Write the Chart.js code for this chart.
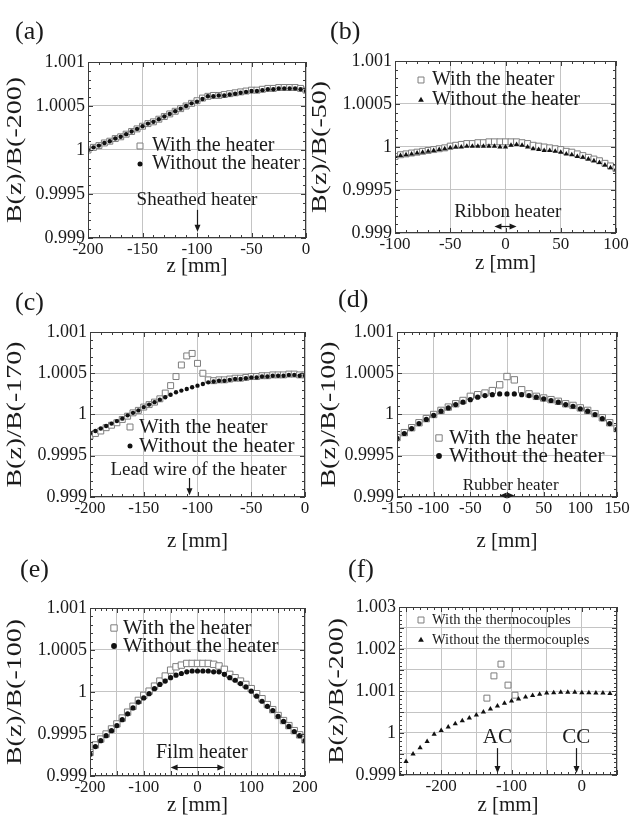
<!DOCTYPE html>
<html>
<head>
<meta charset="utf-8">
<script src="https://cdn.jsdelivr.net/npm/chart.js@4.4.1/dist/chart.umd.min.js"></script>
<style>
  html, body { margin: 0; padding: 0; background: #fff; overflow: hidden; }
  #page { position: relative; width: 630px; height: 816px; overflow: hidden; background: #fff; }
  #page canvas { position: absolute; }
</style>
</head>
<body>
<div id="page"></div>
<script>
// ---------------- DATA ----------------
// z positions [mm]
const zA = [-200,-195,-190,-185,-180,-175,-170,-165,-160,-155,-150,-145,-140,-135,-130,-125,-120,-115,-110,-105,-100,-95,-90,-85,-80,-75,-70,-65,-60,-55,-50,-45,-40,-35,-30,-25,-20,-15,-10,-5,0];
const zB = [-100,-95,-90,-85,-80,-75,-70,-65,-60,-55,-50,-45,-40,-35,-30,-25,-20,-15,-10,-5,0,5,10,15,20,25,30,35,40,45,50,55,60,65,70,75,80,85,90,95,100];
const zC = [-200,-195,-190,-185,-180,-175,-170,-165,-160,-155,-150,-145,-140,-135,-130,-125,-120,-115,-110,-105,-100,-95,-90,-85,-80,-75,-70,-65,-60,-55,-50,-45,-40,-35,-30,-25,-20,-15,-10,-5,0];
const zD = [-150,-140,-130,-120,-110,-100,-90,-80,-70,-60,-50,-40,-30,-20,-10,0,10,20,30,40,50,60,70,80,90,100,110,120,130,140,150];
const zE = [-200,-190,-180,-170,-160,-150,-140,-130,-120,-110,-100,-90,-80,-70,-60,-50,-40,-30,-20,-10,0,10,20,30,40,50,60,70,80,90,100,110,120,130,140,150,160,170,180,190,200];
const zF = [-260,-250,-240,-230,-220,-210,-200,-190,-180,-170,-160,-150,-140,-130,-120,-110,-100,-90,-80,-70,-60,-50,-40,-30,-20,-10,0,10,20,30,40,50];
const zFWith = [-135,-125,-115,-105,-95];

// B(z)/B(z0)
const withA    = [1.00000,1.00003,1.00005,1.00008,1.00010,1.00013,1.00015,1.00018,1.00021,1.00024,1.00027,1.00030,1.00032,1.00035,1.00038,1.00041,1.00044,1.00047,1.00050,1.00053,1.00056,1.00059,1.00061,1.00062,1.00062,1.00063,1.00064,1.00065,1.00066,1.00067,1.00068,1.00068,1.00069,1.00070,1.00070,1.00071,1.00071,1.00071,1.00071,1.00070,1.00068];
const withoutA = [1.00000,1.00003,1.00005,1.00008,1.00010,1.00013,1.00015,1.00018,1.00021,1.00024,1.00027,1.00030,1.00032,1.00035,1.00038,1.00041,1.00044,1.00047,1.00050,1.00053,1.00055,1.00058,1.00061,1.00061,1.00062,1.00062,1.00063,1.00064,1.00065,1.00066,1.00067,1.00067,1.00068,1.00069,1.00069,1.00070,1.00070,1.00070,1.00070,1.00069,1.00067];

const withB    = [0.99989,0.99991,0.99992,0.99993,0.99994,0.99995,0.99996,0.99997,0.99998,0.99999,1.00001,1.00002,1.00003,1.00004,1.00004,1.00005,1.00005,1.00006,1.00006,1.00006,1.00006,1.00006,1.00006,1.00005,1.00004,1.00002,1.00001,1.00000,0.99999,0.99998,0.99997,0.99995,0.99994,0.99992,0.99990,0.99988,0.99986,0.99984,0.99981,0.99978,0.99975];
const withoutB = [0.99989,0.99990,0.99991,0.99992,0.99993,0.99994,0.99995,0.99996,0.99997,0.99998,0.99999,1.00000,1.00000,1.00001,1.00001,1.00001,1.00001,1.00001,1.00001,1.00000,1.00000,1.00002,1.00003,1.00002,1.00000,0.99998,0.99997,0.99996,0.99996,0.99995,0.99994,0.99992,0.99991,0.99989,0.99988,0.99986,0.99984,0.99982,0.99979,0.99976,0.99974];

const withC    = [0.99974,0.99977,0.99980,0.99984,0.99987,0.99990,0.99994,0.99998,1.00002,1.00005,1.00009,1.00012,1.00015,1.00019,1.00026,1.00035,1.00046,1.00060,1.00071,1.00074,1.00062,1.00050,1.00042,1.00041,1.00042,1.00042,1.00043,1.00044,1.00044,1.00045,1.00046,1.00046,1.00047,1.00047,1.00048,1.00048,1.00048,1.00049,1.00049,1.00048,1.00048];
const withoutC = [0.99977,0.99980,0.99983,0.99986,0.99989,0.99992,0.99995,0.99999,1.00002,1.00005,1.00009,1.00012,1.00015,1.00018,1.00021,1.00024,1.00027,1.00029,1.00031,1.00033,1.00035,1.00037,1.00039,1.00040,1.00041,1.00041,1.00042,1.00043,1.00043,1.00044,1.00045,1.00045,1.00046,1.00046,1.00047,1.00047,1.00047,1.00048,1.00048,1.00047,1.00047];

const withD    = [0.99972,0.99978,0.99984,0.99990,0.99995,1.00000,1.00005,1.00009,1.00013,1.00017,1.00022,1.00024,1.00026,1.00029,1.00036,1.00046,1.00042,1.00030,1.00025,1.00022,1.00020,1.00018,1.00016,1.00013,1.00011,1.00008,1.00005,1.00001,0.99996,0.99990,0.99983];
const withoutD = [0.99971,0.99977,0.99983,0.99989,0.99994,0.99999,1.00004,1.00008,1.00012,1.00015,1.00018,1.00021,1.00023,1.00024,1.00025,1.00025,1.00025,1.00024,1.00023,1.00021,1.00019,1.00017,1.00015,1.00012,1.00010,1.00007,1.00004,1.00000,0.99995,0.99989,0.99982];

const withE    = [0.99928,0.99937,0.99944,0.99950,0.99956,0.99962,0.99969,0.99976,0.99983,0.99990,0.99996,1.00001,1.00007,1.00013,1.00019,1.00026,1.00030,1.00032,1.00034,1.00034,1.00034,1.00034,1.00034,1.00033,1.00031,1.00027,1.00021,1.00017,1.00013,1.00009,1.00004,0.99998,0.99992,0.99985,0.99979,0.99972,0.99966,0.99960,0.99954,0.99949,0.99943];
const withoutE = [0.99926,0.99935,0.99942,0.99948,0.99954,0.99960,0.99967,0.99974,0.99981,0.99988,0.99993,0.99998,1.00004,1.00009,1.00013,1.00017,1.00020,1.00022,1.00024,1.00025,1.00025,1.00025,1.00025,1.00024,1.00024,1.00021,1.00017,1.00014,1.00010,1.00006,1.00001,0.99995,0.99989,0.99983,0.99978,0.99971,0.99965,0.99959,0.99953,0.99948,0.99942];

const withF    = [1.00083,1.00136,1.00164,1.00114,1.00090];
const withoutF = [0.99905,0.99932,0.99950,0.99965,0.99980,0.99997,1.00006,1.00014,1.00022,1.00029,1.00036,1.00043,1.00050,1.00057,1.00064,1.00071,1.00076,1.00081,1.00086,1.00089,1.00092,1.00095,1.00096,1.00097,1.00097,1.00097,1.00096,1.00096,1.00095,1.00095,1.00094,1.00092];

// ticks
const yTicks   = [0.999, 0.9995, 1, 1.0005, 1.001];
const yTicksF  = [0.999, 0.9995, 1, 1.0005, 1.001, 1.0015, 1.002, 1.0025, 1.003];
const yLabelsF = [0.999, 1, 1.001, 1.002, 1.003];
const xTicksA  = [-200, -150, -100, -50, 0];
const xTicksB  = [-100, -50, 0, 50, 100];
const xTicksD  = [-150, -100, -50, 0, 50, 100, 150];
const xTicksE  = [-200, -150, -100, -50, 0, 50, 100, 150, 200];
const xLabelsE = [-200, -100, 0, 100, 200];
const xTicksF  = [-250, -200, -150, -100, -50, 0, 50];
const xLabelsF = [-200, -100, 0];

// ---------------- PANELS ----------------
const FONT = '"Liberation Serif", "DejaVu Serif", serif';
const INK = "#1a1a1a";
Chart.defaults.font.family = FONT;

const heater = ["With the heater", "Without the heater"];

const panels = [
  { id: "a", box: { x: 0, y: 0, w: 330, h: 282 }, area: { l: 88, r: 306, t: 62, b: 238 }, titleY: 266,
    xMin: -200, xMax: 0, xTicks: xTicksA, xLabels: xTicksA, yMin: 0.999, yMax: 1.001, yTicks: yTicks, yLabels: yTicks,
    yTitle: "B(z)/B(-200)", yTitleX: 16, tag: [15, 32, "(a)"],
    legend: { x: 140, tx: 152, y1: 146, y2: 164, size: 20, text: heater },
    z: zA, withZ: zA, withY: withA, withoutY: withoutA, mark: "circle", dot: 2.2, sq: 4.2,
    notes: [{ t: "text", x: -100, y: 0.99943, s: "Sheathed heater", size: 19 },
            { t: "arrow", x: -100, y1: 0.99932, y2: 0.99907 }] },
  { id: "b", box: { x: 300, y: 0, w: 330, h: 282 }, area: { l: 395, r: 616, t: 61, b: 233 }, titleY: 263,
    xMin: -100, xMax: 100, xTicks: xTicksB, xLabels: xTicksB, yMin: 0.999, yMax: 1.001, yTicks: yTicks, yLabels: yTicks,
    yTitle: "B(z)/B(-50)", yTitleX: 321, tag: [330, 32, "(b)"],
    legend: { x: 421, tx: 432, y1: 80, y2: 100, size: 20, text: heater },
    z: zB, withZ: zB, withY: withB, withoutY: withoutB, mark: "triangle", dot: 3.0, sq: 4.2,
    notes: [{ t: "text", x: 2, y: 0.99924, s: "Ribbon heater", size: 19 },
            { t: "darrow", x1: -10, x2: 10, y: 0.99908 }] },
  { id: "c", box: { x: 0, y: 272, w: 330, h: 290 }, area: { l: 90, r: 305, t: 332, b: 497 }, titleY: 541,
    xMin: -200, xMax: 0, xTicks: xTicksA, xLabels: xTicksA, yMin: 0.999, yMax: 1.001, yTicks: yTicks, yLabels: yTicks,
    yTitle: "B(z)/B(-170)", yTitleX: 16, tag: [15, 303, "(c)"],
    legend: { x: 130, tx: 139, y1: 427, y2: 446, size: 21, text: heater },
    z: zC, withZ: zC, withY: withC, withoutY: withoutC, mark: "circle", dot: 2.2, sq: 4.2,
    notes: [{ t: "text", x: -99, y: 0.99933, s: "Lead wire of the heater", size: 19 },
            { t: "arrow", x: -108, y1: 0.99923, y2: 0.99902 }] },
  { id: "d", box: { x: 300, y: 272, w: 330, h: 290 }, area: { l: 397, r: 617, t: 332, b: 497 }, titleY: 541,
    xMin: -150, xMax: 150, xTicks: xTicksD, xLabels: xTicksD, yMin: 0.999, yMax: 1.001, yTicks: yTicks, yLabels: yTicks,
    yTitle: "B(z)/B(-100)", yTitleX: 330, tag: [338, 300, "(d)"],
    legend: { x: 439, tx: 449, y1: 438, y2: 456, size: 21, text: heater },
    z: zD, withZ: zD, withY: withD, withoutY: withoutD, mark: "circle", dot: 2.6, sq: 4.5,
    notes: [{ t: "text", x: 5, y: 0.999145, s: "Rubber heater", size: 17 },
            { t: "darrow", x1: -10, x2: 10, y: 0.99903 }] },
  { id: "e", box: { x: 0, y: 545, w: 330, h: 280 }, area: { l: 90, r: 305, t: 608, b: 776 }, titleY: 805,
    xMin: -200, xMax: 200, xTicks: xTicksE, xLabels: xLabelsE, yMin: 0.999, yMax: 1.001, yTicks: yTicks, yLabels: yTicks,
    yTitle: "B(z)/B(-100)", yTitleX: 16, tag: [20, 570, "(e)"],
    legend: { x: 114, tx: 123, y1: 628, y2: 646, size: 21, text: heater },
    z: zE, withZ: zE, withY: withE, withoutY: withoutE, mark: "circle", dot: 2.6, sq: 4.5,
    notes: [{ t: "text", x: 8, y: 0.999274, s: "Film heater", size: 20 },
            { t: "darrow", x1: -50, x2: 50, y: 0.99911 }] },
  { id: "f", box: { x: 300, y: 545, w: 330, h: 280 }, area: { l: 399, r: 617, t: 607, b: 775 }, titleY: 805,
    xMin: -260, xMax: 50, xTicks: xTicksF, xLabels: xLabelsF, yMin: 0.999, yMax: 1.003, yTicks: yTicksF, yLabels: yLabelsF,
    yTitle: "B(z)/B(-200)", yTitleX: 338, tag: [348, 570, "(f)"],
    legend: { x: 421, tx: 432, y1: 620, y2: 640, size: 14.5, text: ["With the thermocouples", "Without the thermocouples"] },
    z: zF, withZ: zFWith, withY: withF, withoutY: withoutF, mark: "triangle", dot: 3.0, sq: 4.2,
    notes: [{ t: "text", x: -120, y: 0.999905, s: "AC", size: 21 },
            { t: "arrow", x: -120, y1: 0.99964, y2: 0.99905 },
            { t: "text", x: -8, y: 0.999905, s: "CC", size: 21 },
            { t: "arrow", x: -8, y1: 0.99964, y2: 0.99905 }] }
];

// ---------------- HELPERS ----------------
function toPoints(xs, ys) { return xs.map((x, i) => ({ x: x, y: ys[i] })); }
function has(list, v) { return list.some(t => Math.abs(t - v) < 1e-9); }
function fmtY(v) { return Math.abs(v - 1) < 1e-9 ? "1" : String(+v.toFixed(4)); }

function drawMark(ctx, style, x, y, r) {
  ctx.beginPath();
  if (style === "rect") {
    const s = r * Math.SQRT1_2;
    ctx.rect(x - s, y - s, 2 * s, 2 * s);
    ctx.fillStyle = "#fff"; ctx.fill();
    ctx.strokeStyle = "#7d7d7d"; ctx.lineWidth = 1; ctx.stroke();
    return;
  }
  if (style === "triangle") {
    let rad = 0;
    ctx.moveTo(x + Math.sin(rad) * r, y - Math.cos(rad) * r);
    rad += Math.PI * 2 / 3;
    ctx.lineTo(x + Math.sin(rad) * r, y - Math.cos(rad) * r);
    rad += Math.PI * 2 / 3;
    ctx.lineTo(x + Math.sin(rad) * r, y - Math.cos(rad) * r);
    ctx.closePath();
  } else {
    ctx.arc(x, y, r, 0, Math.PI * 2);
  }
  ctx.fillStyle = "#111"; ctx.fill();
}

function head(ctx, x, y, dx, dy) {
  // filled arrow head pointing along (dx, dy)
  const len = 7, half = 3;
  ctx.beginPath();
  ctx.moveTo(x, y);
  ctx.lineTo(x - dx * len - dy * half, y - dy * len + dx * half);
  ctx.lineTo(x - dx * len + dy * half, y - dy * len - dx * half);
  ctx.closePath();
  ctx.fill();
}

// frame, minor ticks, legend, notes, rotated y title, panel tag
function decor(p) {
  return {
    id: "decor_" + p.id,
    afterDatasetsDraw(chart) {
      const ctx = chart.ctx, a = chart.chartArea;
      const xs = chart.scales.x, ys = chart.scales.y;
      const ox = p.box.x, oy = p.box.y;
      ctx.save();

      ctx.strokeStyle = "#3c3c3c";
      ctx.lineWidth = 1;
      ctx.strokeRect(a.left + 0.5, a.top + 0.5, a.right - a.left - 1, a.bottom - a.top - 1);

      ctx.beginPath();
      for (let k = 0; ; k++) {
        const v = p.xMin + k * 10;
        if (v > p.xMax + 1e-9) break;
        const px = Math.round(xs.getPixelForValue(v)) + 0.5;
        const len = has(p.xTicks, v) ? 5 : 3;
        ctx.moveTo(px, a.bottom); ctx.lineTo(px, a.bottom - len);
        ctx.moveTo(px, a.top); ctx.lineTo(px, a.top + len);
      }
      for (let k = 0; ; k++) {
        const v = p.yMin + k * 0.0001;
        if (v > p.yMax + 1e-9) break;
        const py = Math.round(ys.getPixelForValue(v)) + 0.5;
        const len = has(p.yTicks, v) ? 5 : 3;
        ctx.moveTo(a.left, py); ctx.lineTo(a.left + len, py);
        ctx.moveTo(a.right, py); ctx.lineTo(a.right - len, py);
      }
      ctx.stroke();

      // legend
      const L = p.legend;
      drawMark(ctx, "rect", L.x - ox, L.y1 - oy, p.sq);
      drawMark(ctx, p.mark, L.x - ox, L.y2 - oy, p.dot + 0.3);
      ctx.fillStyle = INK;
      ctx.font = L.size + "px " + FONT;
      ctx.textAlign = "left";
      ctx.textBaseline = "middle";
      ctx.fillText(L.text[0], L.tx - ox, L.y1 - oy);
      ctx.fillText(L.text[1], L.tx - ox, L.y2 - oy);

      // notes and arrows
      ctx.strokeStyle = INK;
      ctx.fillStyle = INK;
      ctx.lineWidth = 1.2;
      p.notes.forEach(n => {
        if (n.t === "text") {
          ctx.font = n.size + "px " + FONT;
          ctx.textAlign = "center";
          ctx.fillText(n.s, xs.getPixelForValue(n.x), ys.getPixelForValue(n.y));
        } else if (n.t === "arrow") {
          const x = Math.round(xs.getPixelForValue(n.x)) + 0.5;
          const y1 = ys.getPixelForValue(n.y1), y2 = ys.getPixelForValue(n.y2);
          ctx.beginPath(); ctx.moveTo(x, y1); ctx.lineTo(x, y2 - 5); ctx.stroke();
          head(ctx, x, y2, 0, 1);
        } else if (n.t === "darrow") {
          const x1 = xs.getPixelForValue(n.x1), x2 = xs.getPixelForValue(n.x2);
          const y = Math.round(ys.getPixelForValue(n.y)) + 0.5;
          ctx.beginPath(); ctx.moveTo(x1 + 5, y); ctx.lineTo(x2 - 5, y); ctx.stroke();
          head(ctx, x1, y, -1, 0);
          head(ctx, x2, y, 1, 0);
        }
      });

      // y title, drawn stretched along its length like the scan
      ctx.save();
      ctx.translate(p.yTitleX - ox, (a.top + a.bottom) / 2);
      ctx.rotate(-Math.PI / 2);
      ctx.scale(1.4, 1);
      ctx.font = "20px " + FONT;
      ctx.textAlign = "center";
      ctx.textBaseline = "middle";
      ctx.fillText(p.yTitle, 0, 0);
      ctx.restore();

      // panel tag
      ctx.font = "26px " + FONT;
      ctx.textAlign = "left";
      ctx.textBaseline = "middle";
      ctx.fillText(p.tag[2], p.tag[0] - ox, p.tag[1] - oy);

      ctx.restore();
    }
  };
}

// ---------------- BUILD CHARTS ----------------
const page = document.getElementById("page");

panels.forEach(p => {
  const cv = document.createElement("canvas");
  cv.width = p.box.w;
  cv.height = p.box.h;
  cv.style.left = p.box.x + "px";
  cv.style.top = p.box.y + "px";
  page.appendChild(cv);

  const xTitleSize = 21;
  const titlePad = p.box.h - (p.titleY - p.box.y) - xTitleSize * 1.2 / 2;

  new Chart(cv, {
    type: "scatter",
    data: {
      datasets: [
        { label: p.legend.text[0], data: toPoints(p.withZ, p.withY), order: 2,
          pointStyle: "rect", pointRadius: p.sq, borderWidth: 1,
          borderColor: "#7d7d7d", backgroundColor: "#ffffff" },
        { label: p.legend.text[1], data: toPoints(p.z, p.withoutY), order: 1,
          pointStyle: p.mark, pointRadius: p.dot, borderWidth: 0,
          borderColor: "#111", backgroundColor: "#111" }
      ]
    },
    options: {
      responsive: false,
      animation: false,
      events: [],
      layout: { padding: { left: 0, top: p.area.t - p.box.y, right: p.box.x + p.box.w - p.area.r, bottom: 0 } },
      plugins: { legend: { display: false }, tooltip: { enabled: false } },
      scales: {
        x: {
          type: "linear", min: p.xMin, max: p.xMax,
          afterBuildTicks: s => { s.ticks = p.xTicks.map(v => ({ value: v })); },
          afterFit: s => { s.height = p.box.y + p.box.h - p.area.b; s.paddingLeft = 0; s.paddingRight = 0; },
          grid: { color: "#c4c4c4", lineWidth: 1, drawTicks: false },
          border: { display: false },
          ticks: { autoSkip: false, maxRotation: 0, minRotation: 0, padding: 1, color: INK,
                   font: { family: FONT, size: 17 },
                   callback: v => has(p.xLabels, v) ? String(v) : "" },
          title: { display: true, text: "z [mm]", color: INK, font: { family: FONT, size: xTitleSize },
                   padding: { top: 0, bottom: Math.max(0, titlePad) } }
        },
        y: {
          type: "linear", position: "left", min: p.yMin, max: p.yMax,
          afterBuildTicks: s => { s.ticks = p.yTicks.map(v => ({ value: v })); },
          afterFit: s => { s.width = p.area.l - p.box.x; s.paddingTop = 0; s.paddingBottom = 0; },
          grid: { color: "#c4c4c4", lineWidth: 1, drawTicks: false },
          border: { display: false },
          ticks: { autoSkip: false, padding: 3, color: INK, font: { family: FONT, size: 18 },
                   callback: v => has(p.yLabels, v) ? fmtY(v) : "" }
        }
      }
    },
    plugins: [decor(p)]
  });
});
</script>
</body>
</html>
